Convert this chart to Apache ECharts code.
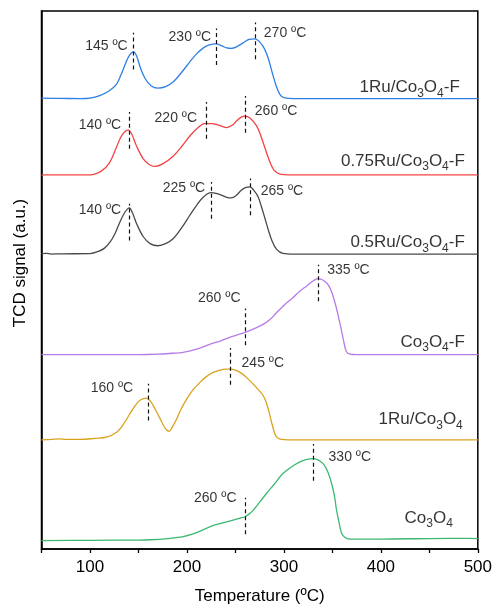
<!DOCTYPE html>
<html>
<head>
<meta charset="utf-8">
<script src="https://cdn.jsdelivr.net/npm/echarts@6/dist/echarts.min.js"></script>
<style>
  html, body { margin: 0; padding: 0; background: #fff; }
  #chart { width: 495px; height: 610px; }
</style>
</head>
<body>
<div id="chart"></div>
<script>
// H2-TPR profiles, stacked top to bottom.
const sampleNames = ['1Ru/Co3O4-F', '0.75Ru/Co3O4-F', '0.5Ru/Co3O4-F', 'Co3O4-F', '1Ru/Co3O4', 'Co3O4'];

// Signal above each trace's own baseline: [temperature (°C), TCD signal (a.u.)]
const ru1F = [[50,0.5],[70,0.3],[90,0],[100,0.5],[110,3],[120,8],[127,14],[132,24],[137,36],[141,44],[145,47],[148,43],[152,31],[157,20],[163,13],[170,10.5],[178,12],[186,17],[195,27],[203,37],[210,45],[217,51],[223,54],[230,55],[236,53],[241,51],[246,50.5],[252,52.5],[258,56],[264,59.5],[270,60],[275,57],[280,50],[284,40],[288,26],[292,13],[296,4],[300,1],[310,0],[400,0],[500,0]];
const ru075F = [[50,0],[100,0],[112,4],[120,12],[127,27],[133,40],[139.5,45],[143,41],[148,29],[155,16],[161,10.5],[167,8.5],[175,11],[186,19],[195,29],[203,39],[211,47],[218,51.5],[225,51.5],[231,50.5],[241,47.5],[247,50],[251,54],[256,58],[260,59],[265,57],[272,49],[277,37],[282,22.5],[286,12],[290,4.5],[296,0.7],[305,0],[400,0],[500,0]];
const ru05F = [[50,0.5],[55,0.8],[60,0],[70,0.3],[100,0.5],[108,2.4],[115,6],[121,12.4],[126,21],[131,32.4],[136,42],[140.5,46.4],[144,41],[148,30.7],[155,17.4],[162,10.5],[170,8.4],[178,10.5],[186,15.7],[195,27],[203,39],[210,49],[217,57.4],[225,61.7],[230,61],[236,59],[241,57],[246,56.4],[251,59],[256,64],[261,67],[265,67.4],[269,64],[273.5,57.4],[277,47],[280.5,35.7],[284,24],[287.5,14],[292.5,4.7],[299,0.7],[310,0],[400,0],[500,0]];
const co3o4F = [[50,0],[150,0],[170,0.5],[185,1.5],[196,2.4],[210,5.5],[224,10.7],[235,14],[244,17.4],[252,20],[260,22.4],[270,26.5],[279,30.7],[286,35.5],[292.5,42.4],[300,49.5],[309.5,57.4],[316,63.5],[323.5,69],[330,74],[335,76.4],[340,75],[345,71],[348,66],[351,58],[354,47.4],[357,35],[359.5,24],[362,12],[364.5,3],[368,0.5],[375,0],[500,0]];
const ru1 = [[50,0],[60,0.5],[68,1],[75,0.5],[90,0.5],[105,1.5],[117,2.7],[127.5,7.7],[134,15],[141,26],[147,35],[152,40],[158,42],[163,38],[168.8,28],[174,18],[178,11],[181.5,8.7],[185,13],[189.4,21],[194,31],[199.7,41],[206,50],[213.4,57.7],[220,63.5],[227,67.7],[234,70],[240,71],[245,71],[250,70],[256,67],[261,63],[268.4,56],[274,50],[278.7,44.3],[282,37],[285.6,24.3],[288,15],[290.7,6],[293,2.5],[296,0.7],[305,0],[500,0]];
const co3o4 = [[50,-0.5],[100,-0.3],[150,0],[162,0.3],[180,1.5],[196,3.4],[210,7.5],[224,13.4],[236,17],[247.7,20],[255,22],[259.8,23.4],[264,26],[268.4,30],[275,38],[282,46.7],[290,56],[299,66.7],[308,73.5],[316.5,78.4],[323,80.7],[330,81.7],[335,80.5],[340.5,76.7],[345,69],[349.2,56.7],[352,45],[354.3,30],[357,17],[359.5,6.7],[363,2.5],[368,1],[400,1],[450,1.5],[490,1.7],[500,1.5]];

const profiles = [ru1F, ru075F, ru05F, co3o4F, ru1, co3o4];

// Vertical offset of each trace (a.u.)
const baselines = [452, 375.5, 296, 195, 109.5, 9];

// Marked peak temperatures (°C) for each trace
const peakTemps = [[145, 230, 270], [140, 220, 260], [140, 225, 265], [260, 335], [160, 245], [260, 330]];

// ---- styling / layout ----
const lineColors = ['#2f7fe4', '#f24444', '#4a4a4a', '#b57be6', '#d9a21c', '#3cb872'];
const FONT = '"Liberation Sans", Arial, sans-serif';
const TEXT = '#000';
// vertical shift of each dashed marker relative to the trace (a.u., up positive)
const dashShift = [[0.8, -2.9, -2], [0.2, 3.3, 1.8], [-13.9, -7.7, -9.9], [5.6, -4.4], [-2.5, 2.8], [0.6, -3.7]];
const dashHalf = 18.4;
// peak label placement relative to its marker
const labelSide = [['left', 'left', 'right'], ['left', 'left', 'right'], ['left', 'left', 'right'], ['left', 'right'], ['left', 'right'], ['left', 'right']];
const labelDrop = [[13.7, 8.7, 10.6], [12.7, 16.7, 15], [6.7, 6, 13], [-10, 6], [4.3, 14.7], [0.7, 13.3]];
const labelGap = [[6, 5, 9], [7.6, 9.3, 9.7], [7.6, 6, 10.7], [4.6, 9.4], [15, 11], [8.6, 15.6]];
// sample-name placement: right edge (°C) and rise above baseline (a.u.)
const nameRight = [481.4, 486.6, 486.6, 486.6, 484.5, 474.2];
const nameRise = [11.5, 14, 11.7, 12.7, 20.7, 22.3];

function valueAt(curve, t) {
  for (let i = 1; i < curve.length; i++) {
    const a = curve[i - 1], b = curve[i];
    if (t <= b[0]) {
      const f = (t - a[0]) / (b[0] - a[0]);
      return a[1] + f * (b[1] - a[1]);
    }
  }
  return curve[curve.length - 1][1];
}

function chemRich(name) {
  return name.replace(/([A-Za-z])(\d)/g, '$1{s|$2}');
}

const series = [];
const peakLabelData = [];
const nameLabelData = [];

profiles.forEach((curve, i) => {
  const base = baselines[i];
  const marks = peakTemps[i].map((t, j) => {
    const c = base + valueAt(curve, t) + dashShift[i][j];
    const top = c + dashHalf;
    peakLabelData.push({
      value: [t, top - labelDrop[i][j]],
      text: t + ' ºC',
      label: { position: labelSide[i][j], distance: labelGap[i][j] }
    });
    return [{ coord: [t, c - dashHalf] }, { coord: [t, top] }];
  });
  series.push({
    type: 'line',
    name: sampleNames[i],
    data: curve.map(p => [p[0], p[1] + base]),
    showSymbol: false,
    smooth: 0.35,
    lineStyle: { color: lineColors[i], width: 1.3 },
    itemStyle: { color: lineColors[i] },
    z: 3,
    markLine: {
      silent: true,
      symbol: ['none', 'none'],
      label: { show: false },
      lineStyle: { color: '#111', type: [4, 3], width: 1.2 },
      emphasis: { disabled: true },
      data: marks
    }
  });
  nameLabelData.push({ value: [nameRight[i], base + nameRise[i]], text: chemRich(sampleNames[i]) });
});

series.push({
  type: 'scatter',
  symbolSize: 0,
  silent: true,
  data: peakLabelData,
  label: {
    show: true,
    formatter: p => p.data.text,
    fontFamily: FONT,
    fontSize: 14,
    color: TEXT
  },
  z: 5
});

series.push({
  type: 'scatter',
  symbolSize: 0,
  silent: true,
  data: nameLabelData,
  label: {
    show: true,
    position: 'left',
    distance: 0,
    formatter: p => p.data.text,
    fontFamily: FONT,
    fontSize: 17,
    color: TEXT,
    rich: {
      s: { fontFamily: FONT, fontSize: 12, color: TEXT, padding: [12, 0, 0, 0] }
    }
  },
  z: 5
});

const chart = echarts.init(document.getElementById('chart'), null, { renderer: 'canvas' });
chart.setOption({
  animation: false,
  backgroundColor: '#fff',
  grid: {
    left: 41.5, right: 17, top: 11, bottom: 59,
    show: true, borderColor: '#000', borderWidth: 1.5, backgroundColor: 'transparent'
  },
  xAxis: {
    type: 'value',
    min: 50, max: 500, interval: 50,
    name: 'Temperature (ºC)',
    nameLocation: 'middle',
    nameGap: 39,
    nameTextStyle: { fontFamily: FONT, fontSize: 17, color: TEXT },
    axisLine: { lineStyle: { color: '#000', width: 1.5 } },
    axisTick: { length: 4, lineStyle: { color: '#000', width: 1.3 } },
    axisLabel: {
      fontFamily: FONT, fontSize: 17, color: TEXT, margin: 10,
      formatter: v => (v % 100 === 0 ? String(v) : '')
    },
    splitLine: { show: false }
  },
  yAxis: {
    type: 'value',
    min: 0, max: 540,
    name: 'TCD signal (a.u.)',
    nameLocation: 'middle',
    nameGap: 13,
    nameTextStyle: { fontFamily: FONT, fontSize: 17, color: TEXT, padding: [0, 0, 0, 34] },
    axisLine: { show: true, lineStyle: { color: '#000', width: 1.5 } },
    axisTick: { show: false },
    axisLabel: { show: false },
    splitLine: { show: false }
  },
  series: series
});
</script>
</body>
</html>
